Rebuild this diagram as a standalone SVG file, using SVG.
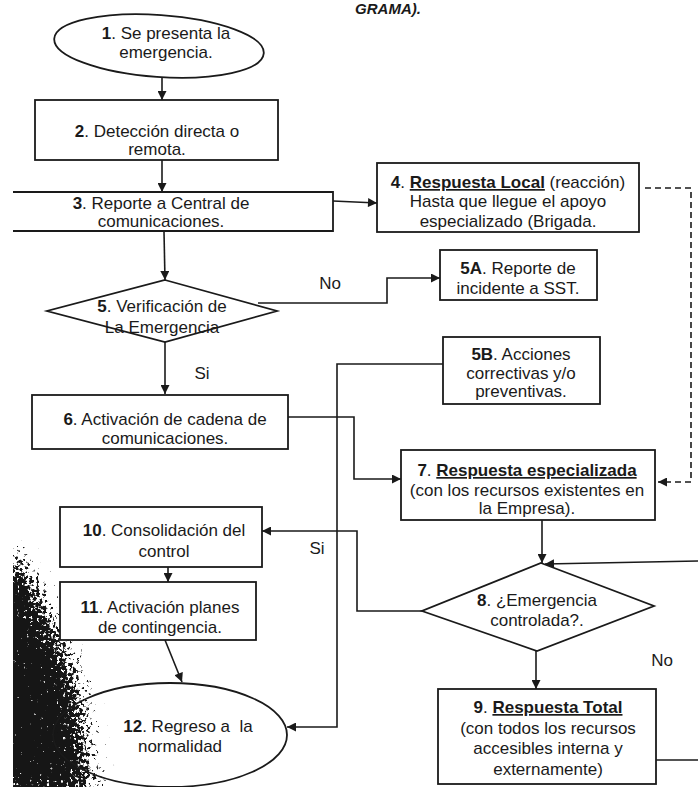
<svg xmlns="http://www.w3.org/2000/svg" width="698" height="787" viewBox="0 0 698 787">
<style>
.t{font-family:"Liberation Sans",Arial,sans-serif;font-size:17px;fill:#1a1a1a;text-anchor:middle}
.b{font-weight:bold}
.u{font-weight:bold;text-decoration:underline}
.box{fill:#fff;stroke:#1a1a1a;stroke-width:1.8}
.open{fill:none;stroke:#1a1a1a;stroke-width:1.8}
.c{fill:none;stroke:#1a1a1a;stroke-width:1.6}
.d{fill:none;stroke:#1a1a1a;stroke-width:1.6;stroke-dasharray:6 4}
.lbl{font-family:"Liberation Sans",Arial,sans-serif;font-size:17px;fill:#1a1a1a;text-anchor:middle}
</style>
<defs>
<marker id="ah" viewBox="0 0 10 10" refX="10" refY="5" markerWidth="10" markerHeight="9" markerUnits="userSpaceOnUse" orient="auto">
<path d="M0,0 L10,5 L0,10 z" fill="#1a1a1a"/>
</marker>
<filter id="grain" filterUnits="userSpaceOnUse" x="13" y="480" width="200" height="307">
<feGaussianBlur in="SourceAlpha" stdDeviation="16" result="m"/>
<feTurbulence type="fractalNoise" baseFrequency="0.3" numOctaves="3" seed="3" result="t"/>
<feColorMatrix in="t" type="matrix" values="0 0 0 0 0  0 0 0 0 0  0 0 0 0 0  1.6 0 0 0 -0.3" result="na"/>
<feComposite in="m" in2="na" operator="arithmetic" k1="0" k2="1" k3="0.9" k4="-0.45" result="s"/>
<feComponentTransfer in="s" result="th"><feFuncA type="linear" slope="7" intercept="-3.5"/></feComponentTransfer>
<feFlood flood-color="#121212"/>
<feComposite in2="th" operator="in"/>
</filter>
</defs>
<rect width="698" height="787" fill="#fff"/>

<!-- scan shadow -->
<path d="M-20,545 L12,552 L28,570 L42,600 L58,632 L72,665 L82,700 L86,735 L88,765 L100,800 L-20,800 Z" fill="#000" filter="url(#grain)"/>

<text class="t" x="388" y="14" style="font-weight:bold;font-style:italic;font-size:15px">GRAMA).</text>

<g id="connectors">
<line class="c" x1="162" y1="78" x2="162" y2="100" marker-end="url(#ah)"/>
<line class="c" x1="162" y1="160" x2="162" y2="192" marker-end="url(#ah)"/>
<line class="c" x1="333" y1="201" x2="377" y2="203" marker-end="url(#ah)"/>
<polyline class="d" points="645,188 691,188 691,482 658,482" marker-end="url(#ah)"/>
<line class="c" x1="164" y1="232" x2="165" y2="280" marker-end="url(#ah)"/>
<polyline class="c" points="258,303 387,303 387,278 440,278" marker-end="url(#ah)"/>
<line class="c" x1="165" y1="342" x2="165" y2="394" marker-end="url(#ah)"/>
<polyline class="c" points="288,417 354,417 354,479 401,479" marker-end="url(#ah)"/>
<polyline class="c" points="443,364 337,364 337,727 287,727" marker-end="url(#ah)"/>
<line class="c" x1="542" y1="520" x2="542" y2="563" marker-end="url(#ah)"/>
<polyline class="c" points="698,561 545,564" marker-end="url(#ah)"/>
<polyline class="c" points="422,611 357,611 357,531 262,531" marker-end="url(#ah)"/>
<line class="c" x1="536" y1="651" x2="536" y2="689" marker-end="url(#ah)"/>
<line class="c" x1="656" y1="760" x2="698" y2="760"/>
<line class="c" x1="168" y1="567" x2="168" y2="582" marker-end="url(#ah)"/>
<line class="c" x1="165" y1="640" x2="182" y2="682" marker-end="url(#ah)"/>
<text class="lbl" x="330" y="289">No</text>
<text class="lbl" x="202" y="379">Si</text>
<text class="lbl" x="317" y="554">Si</text>
<text class="lbl" x="662" y="666">No</text>
</g>

<g id="n1">
<ellipse class="box" cx="159" cy="46" rx="105" ry="31" transform="rotate(4 159 46)"/>
<text class="t" x="166" y="39"><tspan class="b">1</tspan>. Se presenta la</text>
<text class="t" x="166" y="58">emergencia.</text>
</g>

<g id="n2">
<rect class="box" x="35" y="100" width="243" height="60"/>
<text class="t" x="157" y="137"><tspan class="b">2</tspan>. Detección directa o</text>
<text class="t" x="157" y="155">remota.</text>
</g>

<g id="n3">
<path class="open" d="M13,192 H333 V231 H13" style="fill:#fff"/>
<text class="t" x="161" y="209"><tspan class="b">3</tspan>. Reporte a Central de</text>
<text class="t" x="161" y="227">comunicaciones.</text>
</g>

<g id="n4">
<rect class="box" x="377" y="163" width="262" height="69"/>
<text class="t" x="508" y="188"><tspan class="b">4</tspan>. <tspan class="u">Respuesta Local</tspan> (reacción)</text>
<text class="t" x="508" y="207">Hasta que llegue el apoyo</text>
<text class="t" x="508" y="227">especializado (Brigada.</text>
</g>

<g id="n5">
<polygon class="box" points="165,280 277,311 165,342 47,311"/>
<text class="t" x="162" y="312"><tspan class="b">5</tspan>. Verificación de</text>
<text class="t" x="162" y="333">La Emergencia</text>
</g>

<g id="n5a">
<rect class="box" x="440" y="250" width="157" height="50"/>
<text class="t" x="518" y="274"><tspan class="b">5A</tspan>. Reporte de</text>
<text class="t" x="518" y="294">incidente a SST.</text>
</g>

<g id="n5b">
<rect class="box" x="443" y="337" width="157" height="67"/>
<text class="t" x="521" y="360"><tspan class="b">5B</tspan>. Acciones</text>
<text class="t" x="521" y="379">correctivas y/o</text>
<text class="t" x="521" y="397">preventivas.</text>
</g>

<g id="n6">
<rect class="box" x="32" y="395" width="256" height="54"/>
<text class="t" x="165" y="425"><tspan class="b">6</tspan>. Activación de cadena de</text>
<text class="t" x="165" y="444">comunicaciones.</text>
</g>

<g id="n7">
<rect class="box" x="401" y="450" width="254" height="70"/>
<text class="t" x="527" y="476"><tspan class="b">7</tspan>. <tspan class="u">Respuesta especializada</tspan></text>
<text class="t" x="527" y="496">(con los recursos existentes en</text>
<text class="t" x="527" y="514">la Empresa).</text>
</g>

<g id="n8">
<polygon class="box" points="541,563 654,606 537,651 422,611"/>
<text class="t" x="537" y="606"><tspan class="b">8</tspan>. ¿Emergencia</text>
<text class="t" x="537" y="626">controlada?.</text>
</g>

<g id="n9">
<rect class="box" x="438" y="689" width="218" height="95"/>
<text class="t" x="548" y="713"><tspan class="b">9</tspan>. <tspan class="u">Respuesta Total</tspan></text>
<text class="t" x="548" y="734">(con todos los recursos</text>
<text class="t" x="548" y="754">accesibles interna y</text>
<text class="t" x="548" y="775">externamente)</text>
</g>

<g id="n10">
<rect class="box" x="60" y="507" width="202" height="60"/>
<text class="t" x="164" y="536"><tspan class="b">10</tspan>.  Consolidación del</text>
<text class="t" x="164" y="557">control</text>
</g>

<g id="n11">
<rect class="box" x="60" y="582" width="196" height="58"/>
<text class="t" x="160" y="613"><tspan class="b">11</tspan>. Activación planes</text>
<text class="t" x="160" y="633">de contingencia.</text>
</g>

<g id="n12">
<ellipse class="open" cx="170" cy="735" rx="117" ry="52"/>
<text class="t" x="188" y="732"><tspan class="b">12</tspan>. Regreso a&#160; la</text>
<text class="t" x="180" y="752">normalidad</text>
</g>
</svg>
